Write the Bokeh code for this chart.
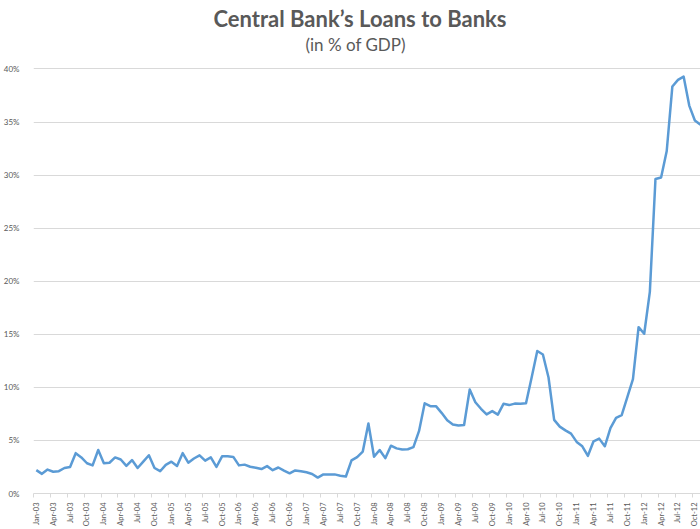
from math import pi
from bokeh.plotting import figure
from bokeh.models import Range1d, FixedTicker, PrintfTickFormatter, Label
from bokeh.embed import file_html
from bokeh.resources import INLINE

# Month labels shown on the x axis (every third month, Jan-03 .. Oct-12)
tick_labels = [
    "Jan-03", "Apr-03", "Jul-03", "Oct-03",
    "Jan-04", "Apr-04", "Jul-04", "Oct-04",
    "Jan-05", "Apr-05", "Jul-05", "Oct-05",
    "Jan-06", "Apr-06", "Jul-06", "Oct-06",
    "Jan-07", "Apr-07", "Jul-07", "Oct-07",
    "Jan-08", "Apr-08", "Jul-08", "Oct-08",
    "Jan-09", "Apr-09", "Jul-09", "Oct-09",
    "Jan-10", "Apr-10", "Jul-10", "Oct-10",
    "Jan-11", "Apr-11", "Jul-11", "Oct-11",
    "Jan-12", "Apr-12", "Jul-12", "Oct-12",
]

# Central bank loans to banks, % of GDP, monthly Jan-03 .. Nov-12
loans_2003 = [2.2, 1.85, 2.25, 2.05, 2.1, 2.4, 2.5, 3.8, 3.4, 2.85, 2.65, 4.1]
loans_2004 = [2.85, 2.9, 3.4, 3.2, 2.6, 3.15, 2.4, 3.0, 3.6, 2.4, 2.1, 2.7]
loans_2005 = [3.0, 2.6, 3.8, 2.9, 3.3, 3.6, 3.1, 3.4, 2.5, 3.5, 3.5, 3.45]
loans_2006 = [2.65, 2.72, 2.52, 2.43, 2.3, 2.58, 2.2, 2.45, 2.15, 1.9, 2.17, 2.1]
loans_2007 = [2.0, 1.84, 1.5, 1.8, 1.8, 1.8, 1.68, 1.6, 3.12, 3.43, 3.95, 6.6]
loans_2008 = [3.47, 4.1, 3.33, 4.5, 4.25, 4.15, 4.17, 4.37, 5.9, 8.5, 8.23, 8.23]
loans_2009 = [7.6, 6.9, 6.5, 6.4, 6.45, 9.8, 8.6, 7.98, 7.45, 7.76, 7.43, 8.45]
loans_2010 = [8.33, 8.47, 8.45, 8.5, 10.93, 13.43, 13.1, 10.93, 6.94, 6.3, 5.95, 5.64]
loans_2011 = [4.86, 4.45, 3.55, 4.92, 5.17, 4.45, 6.16, 7.13, 7.38, 9.07, 10.78, 15.67]
loans_2012 = [15.05, 19.0, 29.63, 29.78, 32.27, 38.35, 38.97, 39.28, 36.55, 35.15, 34.75]

loans_pct = (loans_2003 + loans_2004 + loans_2005 + loans_2006 + loans_2007
             + loans_2008 + loans_2009 + loans_2010 + loans_2011 + loans_2012)
month_index = list(range(len(loans_pct)))

y_ticks = [0, 5, 10, 15, 20, 25, 30, 35, 40]

GREY_TEXT = "#595959"
GRID = "#d9d9d9"

# the frame runs to the top of the page; the 40% gridline sits at y=69 px,
# leaving the space above it for the two title lines
p = figure(width=700, height=529, output_backend="svg", toolbar_location=None,
           x_range=Range1d(-0.5, 118.0), y_range=Range1d(0, 46.45),
           min_border_left=33, min_border_right=0, min_border_top=0,
           min_border_bottom=32, title=None)
p.outline_line_color = None
p.background_fill_color = "white"
p.border_fill_color = "white"

p.line(month_index, loans_pct, line_color="#5B9BD5", line_width=2.5,
       line_join="round")

# x axis: labels at category centres, tick marks at category boundaries
label_pos = [3 * i for i in range(len(tick_labels))]
boundary_pos = [t - 0.5 for t in label_pos]
xa = p.xaxis[0]
xa.ticker = FixedTicker(ticks=label_pos, minor_ticks=boundary_pos)
xa.major_label_overrides = {t: lab for t, lab in zip(label_pos, tick_labels)}
xa.major_label_orientation = pi / 2
xa.major_tick_out = 0
xa.major_tick_in = 0
xa.minor_tick_out = 4
xa.minor_tick_in = 0
xa.minor_tick_line_color = GRID
xa.axis_line_color = GRID
xa.major_label_standoff = 5
xa.major_label_text_font = "Lato"
xa.major_label_text_font_size = "7.5px"
xa.major_label_text_color = GREY_TEXT

ya = p.yaxis[0]
ya.ticker = FixedTicker(ticks=y_ticks)
ya.formatter = PrintfTickFormatter(format="%d%%")
ya.axis_line_color = None
ya.major_tick_line_color = None
ya.minor_tick_line_color = None
ya.major_label_standoff = 8
ya.major_label_text_font = "Lato"
ya.major_label_text_font_size = "8px"
ya.major_label_text_color = GREY_TEXT

p.xgrid.grid_line_color = None
p.ygrid.ticker = FixedTicker(ticks=y_ticks)
p.ygrid.grid_line_color = GRID
p.ygrid.grid_line_width = 1

title = Label(x=180, y=475, x_units="screen", y_units="screen",
              text="Central Bank\u2019s Loans to Banks", text_align="left",
              text_baseline="middle", text_font="Lato", text_font_style="bold",
              text_font_size="22px", text_color=GREY_TEXT)
subtitle = Label(x=272, y=449, x_units="screen", y_units="screen",
                 text="(in % of GDP)", text_align="left",
                 text_baseline="middle", text_font="Lato",
                 text_font_size="17px", text_color=GREY_TEXT)
p.add_layout(title)
p.add_layout(subtitle)

open("out.html", "w").write(file_html(p, INLINE))
